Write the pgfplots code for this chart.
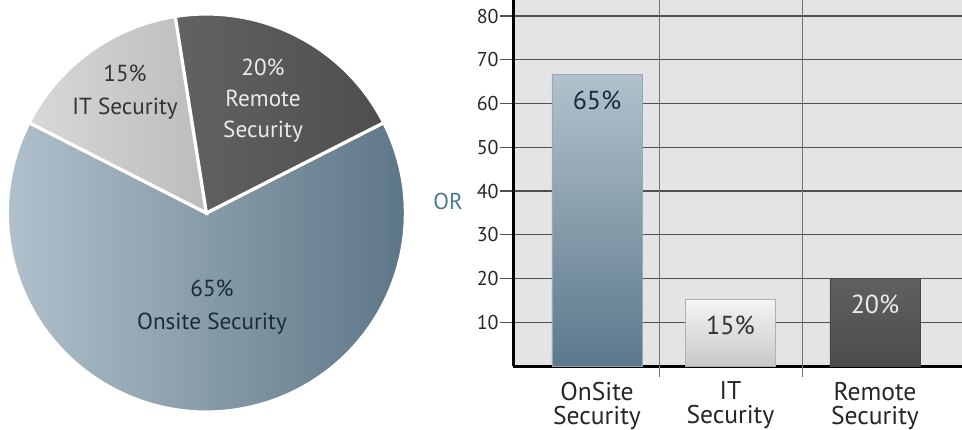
\documentclass[border=0pt]{standalone}
\usepackage{pgfplots}
\pgfplotsset{compat=1.18}
\usepackage{pgfplotstable}
\usepackage{fontspec}
\setmainfont{PT Sans}
\definecolor{orblue}{HTML}{4E7A95}
\definecolor{navy}{HTML}{1B2B3B}
\definecolor{gridc}{HTML}{505050}
\definecolor{plotbg}{HTML}{E4E4E4}
\definecolor{onL}{RGB}{182,198,209}
\definecolor{onR}{RGB}{92,117,134}
\definecolor{itL}{RGB}{216,216,216}
\definecolor{itR}{RGB}{188,188,188}
\definecolor{reL}{RGB}{98,98,98}
\definecolor{reR}{RGB}{78,78,78}
\definecolor{bAt}{RGB}{178,193,204}
\definecolor{bAb}{RGB}{92,121,140}
\definecolor{bAd}{RGB}{150,168,180}
\definecolor{bBt}{RGB}{244,244,244}
\definecolor{bBb}{RGB}{200,200,200}
\definecolor{bBd}{RGB}{175,175,175}
\definecolor{bCt}{RGB}{96,96,96}
\definecolor{bCb}{RGB}{76,76,76}
\definecolor{bCd}{RGB}{70,70,70}

% pie shares (percent)
\pgfplotstableread{
name value
Remote 20
IT 15
Onsite 65
}\piedata

% bars: position, height
\pgfplotstableread{
x y
0 66.7
}\barA
\pgfplotstableread{
x y
0.96 15.2
}\barB
\pgfplotstableread{
x y
2 20
}\barC

\begin{document}
\begin{tikzpicture}
\useasboundingbox (0,0) rectangle (481pt,214.5pt);

\pgfplotstablegetelem{0}{value}\of\piedata \let\vA\pgfplotsretval
\pgfplotstablegetelem{1}{value}\of\piedata \let\vB\pgfplotsretval
\pgfplotstablegetelem{2}{value}\of\piedata \let\vC\pgfplotsretval
\pgfmathsetmacro\aZ{27}
\pgfmathsetmacro\aA{\aZ+3.6*\vA}
\pgfmathsetmacro\aB{\aA+3.6*\vB}
\pgfmathsetmacro\aC{\aB+3.6*\vC}

% ---------- pie ----------
\begin{axis}[
  at={(103.2pt,108pt)}, anchor=center,
  width=199pt, height=199pt, scale only axis,
  hide axis, xmin=-1, xmax=1, ymin=-1, ymax=1, clip=false]
\fill[left color=onL, right color=onR, draw=white, line width=1.6pt]
  (axis cs:0,0) -- (axis cs:{cos(\aB)},{sin(\aB)}) arc[start angle=\aB, end angle=\aC, radius=99.5pt] -- cycle;
\fill[left color=itL, right color=itR, draw=white, line width=1.6pt]
  (axis cs:0,0) -- (axis cs:{cos(\aA)},{sin(\aA)}) arc[start angle=\aA, end angle=\aB, radius=99.5pt] -- cycle;
\fill[left color=reL, right color=reR, draw=white, line width=1.6pt]
  (axis cs:0,0) -- (axis cs:{cos(\aZ)},{sin(\aZ)}) arc[start angle=\aZ, end angle=\aA, radius=99.5pt] -- cycle;
\end{axis}

\node[align=center, text=black!80, font=\fontsize{11.6}{16.5}\selectfont] at (62.5pt,168.5pt) {15\%\\IT Security};
\node[align=center, text=white!92!black, font=\fontsize{11.6}{15.5}\selectfont] at (131.5pt,164pt) {20\%\\Remote\\Security};
\node[align=center, text=navy, font=\fontsize{11.6}{16.5}\selectfont] at (106pt,61pt) {65\%\\Onsite Security};

\node[text=orblue, font=\fontsize{11.5}{13}\selectfont] at (224pt,114pt) {OR};

% ---------- bars ----------
\begin{axis}[
  at={(256.5pt,31.5pt)}, anchor=south west,
  width=224.5pt, height=183pt, scale only axis,
  xmin=-0.604, xmax=2.626, ymin=0, ymax=83.66,
  axis x line=bottom, axis y line=left,
  axis line style={black, line width=1.5pt, -},
  axis background/.style={fill=plotbg},
  ytick={10,20,...,80},
  ymajorgrids, major grid style={gridc, line width=0.65pt},
  ytick style={gridc, line width=0.65pt},
  major tick length=6.5pt, tick align=outside,
  yticklabel style={font=\fontsize{10}{11}\selectfont, text=black!85, inner sep=0.5pt},
  /pgf/number format/assume math mode=true,
  xtick={0,0.96,2},
  xticklabels={OnSite\\Security, IT\\Security, Remote\\Security},
  xticklabel style={align=center, font=\fontsize{12.8}{12}\selectfont, text=black!85, yshift=2pt},
  x tick style={draw=none},
  extra x ticks={0.446,1.48},
  extra x tick labels={},
  extra x tick style={grid=major, major grid style={gridc!80, line width=0.4pt},
     x tick style={draw=gridc!80, line width=0.4pt}, major tick length=5.5pt},
  ybar, bar width=45pt, bar shift=0pt,
  nodes near coords style={anchor=center, yshift=-13pt, font=\fontsize{13}{14}\selectfont},
]
\addplot[draw=bAd, line width=0.4pt, top color=bAt, bottom color=bAb,
  nodes near coords={65\%}, every node near coord/.append style={text=navy}] table[x=x,y=y] {\barA};
\addplot[draw=bBd, line width=0.4pt, top color=bBt, bottom color=bBb,
  nodes near coords={15\%}, every node near coord/.append style={text=black!80}] table[x=x,y=y] {\barB};
\addplot[draw=bCd, line width=0.4pt, top color=bCt, bottom color=bCb,
  nodes near coords={20\%}, every node near coord/.append style={text=white!92!black}] table[x=x,y=y] {\barC};
\end{axis}
\end{tikzpicture}
\end{document}
